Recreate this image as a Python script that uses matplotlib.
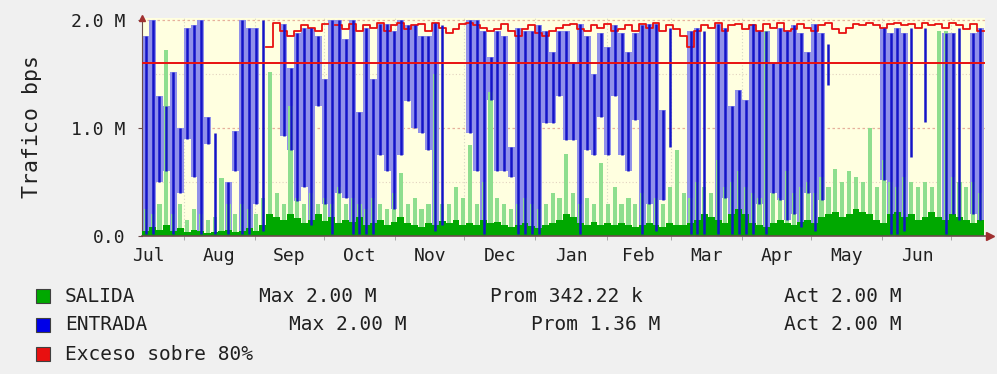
import numpy as np
import matplotlib
matplotlib.use('Agg')
import matplotlib.pyplot as plt
from matplotlib.patches import Rectangle

nan = np.nan

# eje de tiempo: dias desde el 1 de julio, muestras cada 3 dias
months = ['Jul', 'Aug', 'Sep', 'Oct', 'Nov', 'Dec', 'Jan', 'Feb', 'Mar', 'Apr', 'May', 'Jun']
month_days = [31, 31, 30, 31, 30, 31, 31, 28, 31, 30, 31, 30]
first_day = 13
bin_days = 3

# trafico en Mbps
salida = [0.05, 0.08, 0.06, 0.10, 0.05, 0.07, 0.04, 0.06, 0.05, 0.03,
          0.04, 0.05, 0.06, 0.04, 0.05, 0.07, 0.05, 0.10, 0.20, 0.18,
          0.15, 0.20, 0.17, 0.12, 0.15, 0.20, 0.14, 0.18, 0.12, 0.15,
          0.13, 0.18, 0.10, 0.12, 0.15, 0.10, 0.13, 0.18, 0.12, 0.10,
          0.08, 0.12, 0.10, 0.14, 0.12, 0.15, 0.10, 0.12, 0.10, 0.15,
          0.12, 0.13, 0.10, 0.08, 0.10, 0.12, 0.09, 0.07, 0.10, 0.12,
          0.15, 0.20, 0.18, 0.12, 0.10, 0.13, 0.10, 0.12, 0.10, 0.12,
          0.10, 0.08, 0.10, 0.12, 0.10, 0.08, 0.12, 0.10, 0.10, 0.12,
          0.15, 0.20, 0.18, 0.15, 0.12, 0.20, 0.25, 0.20, 0.12, 0.10,
          0.08, 0.12, 0.15, 0.12, 0.10, 0.13, 0.15, 0.12, 0.18, 0.20,
          0.22, 0.18, 0.20, 0.25, 0.22, 0.20, 0.15, 0.12, 0.20, 0.22,
          0.18, 0.20, 0.15, 0.18, 0.22, 0.18, 0.15, 0.20, 0.18, 0.15,
          0.12, 0.15]
salida_max = [0.25, 0.20, 0.30, 1.72, 0.20, 0.30, 0.15, 0.25, 0.20, 0.15,
              0.18, 0.54, 0.30, 0.20, 0.30, 0.25, 0.20, 0.35, 1.52, 0.40,
              0.30, 1.20, 0.35, 0.30, 0.40, 0.30, 0.35, 0.30, 0.45, 0.30,
              0.35, 0.30, 0.25, 0.35, 0.30, 0.25, 0.40, 0.58, 0.30, 0.35,
              0.25, 0.30, 1.50, 0.30, 0.30, 0.45, 0.35, 0.84, 0.30, 0.50,
              1.33, 0.35, 0.30, 0.25, 0.30, 0.35, 0.30, 0.25, 0.30, 0.40,
              0.35, 0.76, 0.40, 0.30, 0.35, 0.30, 0.68, 0.30, 0.45, 0.30,
              0.35, 0.30, 0.40, 0.30, 0.35, 0.30, 0.45, 0.80, 0.40, 0.35,
              0.50, 0.45, 0.40, 0.70, 0.45, 0.50, 0.60, 0.45, 0.40, 0.35,
              1.90, 0.40, 0.35, 0.60, 0.40, 0.45, 0.50, 0.40, 0.55, 0.45,
              0.62, 0.50, 0.60, 0.55, 0.50, 1.00, 0.45, 0.70, 0.50, 0.45,
              0.55, 0.50, 0.45, 0.50, 0.45, 1.90, 1.90, 0.55, 0.50, 0.45,
              0.50, 0.40]
entrada_hi = [1.85, 2.00, 1.30, 1.20, 1.52, 1.00, 1.93, 1.95, 2.00, 1.10,
              0.95, 0.00, 0.50, 0.97, 2.00, 1.93, 1.93, 2.00, 0.00, 0.00,
              1.96, 1.56, 1.88, 1.93, 1.93, 1.85, 1.45, 2.00, 2.00, 1.82,
              2.00, 1.15, 1.93, 1.45, 1.96, 1.96, 1.90, 2.00, 1.95, 1.95,
              1.85, 1.85, 1.97, 1.95, 0.00, 0.00, 0.00, 2.00, 2.00, 1.90,
              1.66, 1.90, 1.85, 0.82, 1.93, 1.90, 1.90, 1.95, 1.90, 1.70,
              1.90, 1.90, 1.60, 1.96, 1.85, 1.50, 1.88, 1.75, 1.95, 1.88,
              1.70, 1.88, 1.95, 1.96, 1.96, 1.17, 1.93, 0.00, 0.00, 1.90,
              1.93, 1.90, 0.00, 1.96, 1.93, 1.20, 1.35, 1.26, 1.96, 1.90,
              1.90, 1.60, 1.93, 1.90, 1.95, 1.88, 1.70, 1.96, 1.88, 1.78,
              0.00, 0.00, 0.00, 0.00, 0.00, 0.00, 0.00, 1.93, 1.88, 1.93,
              1.88, 1.93, 0.00, 1.93, 0.00, 0.00, 1.88, 1.88, 1.93, 0.00,
              1.88, 1.93]
entrada_lo = [0.02, 0.02, 0.50, 0.60, 0.02, 0.40, 0.90, 0.55, 0.02, 0.85,
              0.02, 0.00, 0.02, 0.60, 0.02, 0.02, 0.30, 0.05, 0.00, 0.00,
              0.93, 0.80, 0.32, 0.45, 0.10, 1.20, 0.30, 0.02, 0.40, 0.35,
              0.02, 0.02, 0.02, 0.02, 0.75, 0.60, 0.25, 0.75, 1.25, 1.00,
              0.95, 0.80, 0.05, 0.10, 0.00, 0.00, 0.00, 0.95, 0.60, 0.02,
              1.26, 0.60, 0.60, 0.55, 0.02, 0.02, 0.02, 0.02, 1.05, 1.05,
              1.30, 0.89, 0.89, 0.02, 0.80, 0.75, 1.10, 0.75, 1.30, 0.75,
              0.60, 1.07, 0.02, 0.30, 0.05, 0.33, 0.82, 0.00, 0.00, 0.02,
              0.02, 0.02, 0.00, 0.02, 0.35, 0.02, 0.02, 0.02, 0.02, 0.30,
              0.02, 0.40, 0.33, 0.15, 0.20, 0.08, 0.40, 0.05, 0.33, 1.40,
              0.00, 0.00, 0.00, 0.00, 0.00, 0.00, 0.00, 0.52, 0.02, 0.02,
              0.05, 0.73, 0.00, 1.06, 0.00, 0.00, 0.02, 0.20, 0.15, 0.00,
              0.20, 0.15]
exceso = [nan, nan, nan, nan, nan, nan, nan, nan, nan, nan,
          nan, nan, nan, nan, nan, nan, nan, nan, 1.75, 1.97,
          1.90, 1.85, 1.90, 1.95, 1.93, 1.90, 1.96, nan, 1.95, 1.92,
          1.96, 1.90, 1.95, 1.93, 1.97, 1.90, 1.95, 1.97, 1.92, 1.95,
          1.96, 1.90, 1.97, 1.93, 1.88, 1.92, 1.96, 1.97, 1.95, 1.93,
          1.90, 1.92, 1.96, 1.90, 1.85, 1.92, 1.95, 1.88, 1.85, 1.90,
          1.93, 1.95, 1.96, 1.92, 1.90, 1.95, 1.93, 1.96, 1.90, 1.92,
          1.95, 1.90, 1.96, 1.93, 1.97, 1.90, 1.95, 1.92, 1.85, 1.75,
          1.90, 1.95, 1.93, 1.97, 1.90, 1.95, 1.96, 1.92, 1.95, 1.90,
          1.96, 1.93, 1.97, 1.90, 1.92, 1.96, 1.93, 1.90, 1.95, 1.97,
          1.92, 1.88, 1.93, 1.96, 1.95, 1.97, 1.95, 1.93, 1.96, 1.97,
          1.95, 1.96, 1.93, 1.97, 1.95, 1.96, 1.93, 1.97, 1.95, 1.92,
          1.96, 1.90]
umbral = 1.6  # 80% de 2.0 M

y_ticks = [0, 1, 2]
y_labels = ['0.0', '1.0 M', '2.0 M']

legend_rows = [
    ('SALIDA', 'Max 2.00 M', 'Prom 342.22 k', 'Act 2.00 M'),
    ('ENTRADA', 'Max 2.00 M', 'Prom 1.36 M', 'Act 2.00 M'),
    ('Exceso sobre 80%', '', '', ''),
]

# colores
c_fondo = '#f0f0f0'
c_plot = '#ffffe0'
c_verde = '#00a800'
c_verde_cl = '#8ede8e'
c_azul = '#1414c8'
c_lila = '#9090ea'
c_rojo = '#e81010'
c_eje = '#6a4a4a'
c_texto = '#202020'

plt.rcParams['font.family'] = ['DejaVu Sans Mono']

n = len(salida)
x_edges = first_day + bin_days * np.arange(n + 1)
x_mid = first_day + bin_days * np.arange(n) + bin_days / 2


def ext(v):
    v = np.asarray(v, dtype=float)
    return np.append(v, v[-1])


hi = np.array(entrada_hi)
lo = np.array(entrada_lo)
hay = hi > lo
hi_m = np.where(hay, hi, nan)
lo_m = np.where(hay, lo, nan)

W, H = 997, 374
fig = plt.figure(figsize=(W / 100, H / 100), dpi=100, facecolor=c_fondo)
ax = fig.add_axes([142 / W, 1 - 236 / H, (985 - 142) / W, (236 - 18) / H])
ax.set_facecolor(c_plot)

month_start = np.concatenate([[0], np.cumsum(month_days)])
ax.set_xlim(12.9, 379.6)
ax.set_ylim(0, 2.0 * 218 / 216)

# rejilla
for m in month_start[1:]:
    ax.axvline(m, color='#d6d6c4', lw=0.8, ls=(0, (1, 2)), zorder=0.5)
for yv in [0.5, 1.5]:
    ax.axhline(yv, color='#e2d2c0', lw=0.8, ls=(0, (1, 2)), zorder=0.5)
for yv in [1.0, 2.0]:
    ax.axhline(yv, color='#e6b09c', lw=0.9, ls=(0, (2, 2)), zorder=0.5)

# ENTRADA (banda lila + trazo azul)
ax.fill_between(x_edges, ext(lo_m), ext(hi_m), step='post', color=c_lila, lw=0, zorder=1)
# SALIDA: picos maximos (verde claro) y promedio (verde)
ax.bar(x_mid, salida_max, width=1.8, color=c_verde_cl, lw=0, zorder=2)
ax.fill_between(x_edges, 0, ext(salida), step='post', color=c_verde, lw=0, zorder=3)
# exceso sobre 80%
ax.step(x_edges, ext(exceso), where='post', color=c_rojo, lw=1.3, zorder=4)
ax.vlines(x_mid[hay], lo[hay], hi[hay], color=c_azul, lw=1.8, zorder=5)
ax.axhline(umbral, color=c_rojo, lw=1.4, zorder=6)

# ejes
for s in ['top', 'right']:
    ax.spines[s].set_visible(False)
ax.spines['left'].set_color(c_eje)
ax.spines['bottom'].set_visible(False)
ax.plot([0, 1.006], [0, 0], transform=ax.transAxes, color=c_eje, lw=1.2, clip_on=False, zorder=7)
ax.plot([1.006], [0], marker='>', ms=6, color='#a03030', transform=ax.transAxes, clip_on=False, zorder=7)
ax.plot([0], [1.0], marker='^', ms=5, color='#a03030', transform=ax.transAxes, clip_on=False, zorder=7)

ax.set_xticks(month_start[:-1] + np.array(month_days) / 2)
ax.set_xticklabels(months)
ax.set_xticks(month_start[1:], minor=True)
ax.tick_params(axis='x', which='major', length=0, pad=8, labelsize=13, colors=c_texto)
ax.tick_params(axis='x', which='minor', length=3, color='#999999')
ax.set_yticks(y_ticks)
ax.set_yticklabels(y_labels)
ax.tick_params(axis='y', length=3, pad=9, labelsize=13, colors=c_texto, color=c_eje)

fig.text(32 / W, 1 - 126 / H, 'Trafico bps', rotation=90, ha='center', va='center',
         fontsize=15.5, color=c_texto)

# leyenda
sq_colors = [c_verde, '#0000e8', c_rojo]
row_y = [296, 325, 354]
col_x = [[None, 318, 566, 843], [None, 348, 596, 843], [None]]
for k, row in enumerate(legend_rows):
    yc = 1 - row_y[k] / H
    fig.patches.append(Rectangle((36 / W, yc - 7 / H), 14 / W, 14 / H, transform=fig.transFigure,
                                 facecolor=sq_colors[k], edgecolor='#404040', lw=0.8))
    fig.text(65 / W, yc, row[0], ha='left', va='center', fontsize=14, color=c_texto)
    for j in range(1, 4):
        if row[j]:
            fig.text(col_x[k][j] / W, yc, row[j], ha='center', va='center', fontsize=14, color=c_texto)

fig.savefig('out.png', dpi=100, facecolor=c_fondo)
